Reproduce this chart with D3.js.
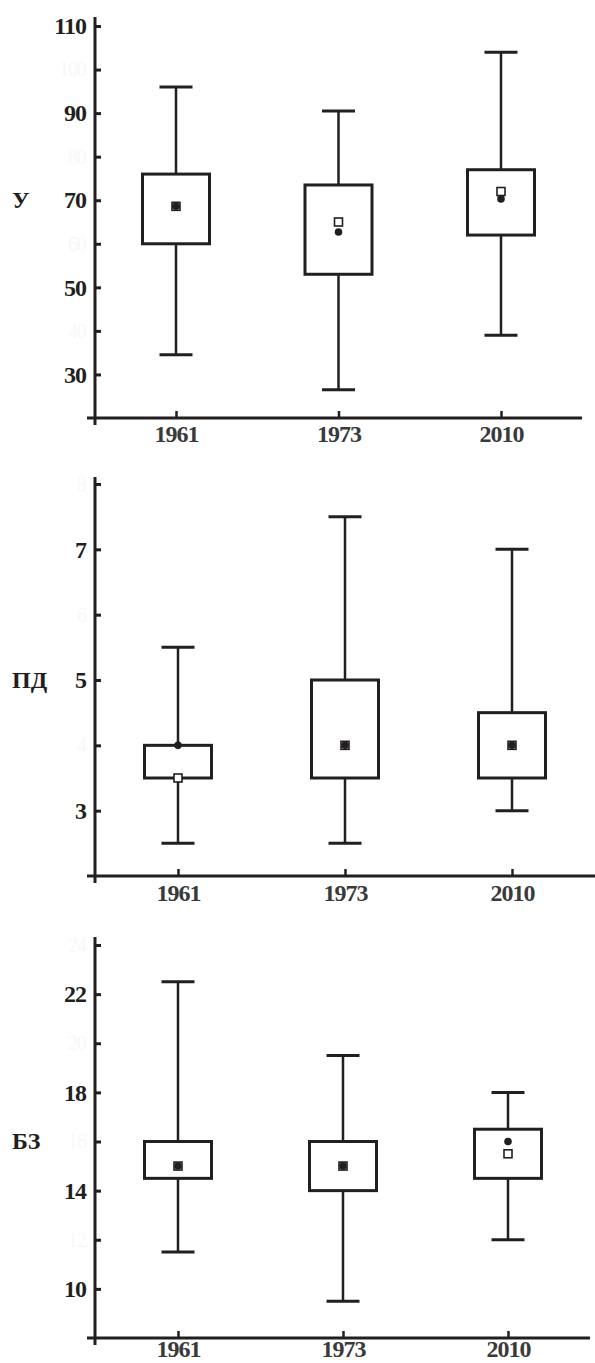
<!DOCTYPE html>
<html>
<head>
<meta charset="utf-8">
<script src="https://cdn.jsdelivr.net/npm/d3@7"></script>
<style>
  html, body { margin: 0; padding: 0; background: #ffffff; }
  svg { display: block; }
  text { font-family: "Liberation Serif", "Times New Roman", serif; font-weight: bold; }
</style>
</head>
<body>
<svg id="chart" width="595" height="1363"></svg>
<script>
// ---------- data ----------
const years = ["1961", "1973", "2010"];

// Panel "У"
const uLow    = [34.5, 26.5, 39];
const uQ1     = [60, 53, 62];
const uQ3     = [76, 73.5, 77];
const uHigh   = [96, 90.5, 104];
const uSquare = [68.6, 65, 72];
const uCircle = [68.6, 62.7, 70.3];
const uTicks  = [30, 40, 50, 60, 70, 80, 90, 100, 110];
const uShown  = [30, 50, 70, 90, 110];

// Panel "ПД"
const pdLow    = [2.5, 2.5, 3.0];
const pdQ1     = [3.5, 3.5, 3.5];
const pdQ3     = [4.0, 5.0, 4.5];
const pdHigh   = [5.5, 7.5, 7.0];
const pdSquare = [3.5, 4.0, 4.0];
const pdCircle = [4.0, 4.0, 4.0];
const pdTicks  = [3, 4, 5, 6, 7, 8];
const pdShown  = [3, 5, 7];

// Panel "БЗ"
const bzLow    = [11.5, 9.5, 12];
const bzQ1     = [14.5, 14, 14.5];
const bzQ3     = [16, 16, 16.5];
const bzHigh   = [22.5, 19.5, 18];
const bzSquare = [15, 15, 15.5];
const bzCircle = [15, 15, 16];
const bzTicks  = [10, 12, 14, 16, 18, 20, 22, 24];
const bzShown  = [10, 14, 18, 22];

// ---------- drawing ----------
const ink = "#231f20";
const svg = d3.select("#chart");

const panels = [
  { label: "У",  labelAt: 70, low: uLow, q1: uQ1, q3: uQ3, high: uHigh, sq: uSquare, ci: uCircle,
    ticks: uTicks, shown: uShown, yDomain: [20, 110], yRange: [418, 26], axisTop: 17,
    xRange: [176, 501], xAxisEnd: 582, labelOff: 24 },
  { label: "ПД", labelAt: 5, low: pdLow, q1: pdQ1, q3: pdQ3, high: pdHigh, sq: pdSquare, ci: pdCircle,
    ticks: pdTicks, shown: pdShown, yDomain: [2, 8], yRange: [876, 484], axisTop: 477,
    xRange: [178, 512], xAxisEnd: 595, labelOff: 25 },
  { label: "БЗ", labelAt: 16, low: bzLow, q1: bzQ1, q3: bzQ3, high: bzHigh, sq: bzSquare, ci: bzCircle,
    ticks: bzTicks, shown: bzShown, yDomain: [8, 24], yRange: [1338, 945], axisTop: 937,
    xRange: [178, 508], xAxisEnd: 590, labelOff: 19 }
];

const axisX0 = 95;
const boxW = 67, capW = 33;

panels.forEach(p => {
  const y = d3.scaleLinear().domain(p.yDomain).range(p.yRange);
  const x = d3.scalePoint().domain(years).range(p.xRange);
  const g = svg.append("g");
  const baseY = p.yRange[0];

  // Y axis ticks + labels
  const yAxis = d3.axisLeft(y).tickValues(p.ticks).tickSize(-6).tickSizeOuter(0).tickPadding(9)
    .tickFormat(d => d);
  const ya = g.append("g").attr("transform", `translate(${axisX0},0)`).call(yAxis)
    .attr("font-family", null).attr("font-size", null);
  ya.select(".domain").remove();
  ya.selectAll(".tick line").attr("stroke", ink).attr("stroke-width", 3);
  ya.selectAll(".tick text")
    .attr("fill", d => p.shown.includes(d) ? ink : "#f8f8f8")
    .style("font-size", d => p.shown.includes(d) ? "24px" : "20px")
    .style("font-weight", d => p.shown.includes(d) ? "bold" : "normal")
    .style("letter-spacing", "-1px");

  // Y axis line
  g.append("line").attr("x1", axisX0).attr("x2", axisX0)
    .attr("y1", p.axisTop).attr("y2", baseY + 7)
    .attr("stroke", ink).attr("stroke-width", 3);

  // X axis
  const xAxis = d3.axisBottom(x).tickSize(-7).tickSizeOuter(0).tickPadding(0);
  const xa = g.append("g").attr("transform", `translate(0,${baseY})`).call(xAxis)
    .attr("font-family", null).attr("font-size", null);
  xa.select(".domain").remove();
  xa.selectAll(".tick line").attr("stroke", ink).attr("stroke-width", 2.5);
  xa.selectAll(".tick text")
    .attr("dy", null).attr("y", p.labelOff)
    .attr("fill", "#3a3a3a")
    .style("font-size", "24px")
    .style("letter-spacing", "-1px");
  g.append("line").attr("x1", 87).attr("x2", p.xAxisEnd)
    .attr("y1", baseY).attr("y2", baseY)
    .attr("stroke", ink).attr("stroke-width", 3);

  // Variable label
  g.append("text").attr("x", 12).attr("y", y(p.labelAt)).attr("dy", "0.32em")
    .attr("fill", ink).style("font-size", "24px").text(p.label);

  // Boxes
  years.forEach((yr, i) => {
    const cx = x(yr);
    g.append("line").attr("x1", cx).attr("x2", cx)
      .attr("y1", y(p.high[i])).attr("y2", y(p.low[i]))
      .attr("stroke", ink).attr("stroke-width", 2.5);
    [p.high[i], p.low[i]].forEach(v => {
      g.append("line").attr("x1", cx - capW / 2).attr("x2", cx + capW / 2)
        .attr("y1", y(v)).attr("y2", y(v))
        .attr("stroke", ink).attr("stroke-width", 3);
    });
    g.append("rect").attr("x", cx - boxW / 2).attr("width", boxW)
      .attr("y", y(p.q3[i])).attr("height", y(p.q1[i]) - y(p.q3[i]))
      .attr("fill", "#ffffff").attr("stroke", ink).attr("stroke-width", 3);
    g.append("rect").attr("x", cx - 4).attr("y", y(p.sq[i]) - 4)
      .attr("width", 8).attr("height", 8)
      .attr("fill", "#ffffff").attr("stroke", ink).attr("stroke-width", 1.6);
    g.append("circle").attr("cx", cx).attr("cy", y(p.ci[i])).attr("r", 3.8)
      .attr("fill", ink);
  });
});
</script>
</body>
</html>
